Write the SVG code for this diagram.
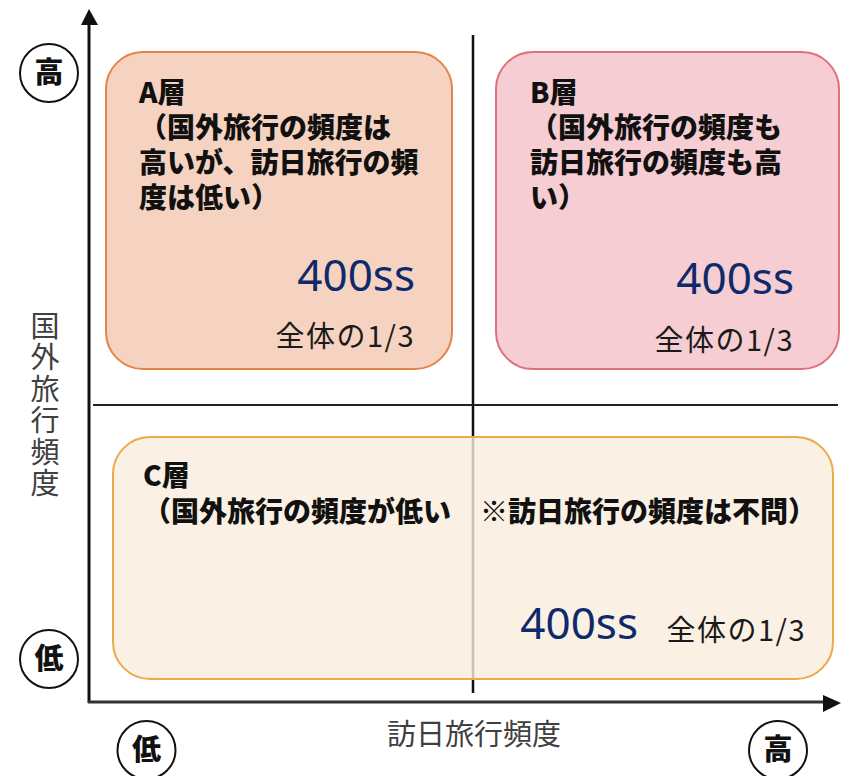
<svg xmlns="http://www.w3.org/2000/svg" width="841" height="776" viewBox="0 0 841 776">
<style>
.bold{font-family:"Noto Sans CJK JP","Noto Sans",sans-serif;font-weight:900;font-size:28px;fill:#111}
.num{font-family:"Noto Sans",sans-serif;font-size:44px;fill:#0E2A6B}
.frac{font-family:"Noto Sans CJK JP",sans-serif;font-size:29px;fill:#1a1a1a;letter-spacing:1.5px}
.axl{font-family:"Noto Sans CJK JP",sans-serif;font-size:29px;fill:#404040}
.circ{fill:#fff;stroke:#111;stroke-width:2}
.ct{font-family:"Noto Sans CJK JP",sans-serif;font-weight:900;font-size:29px;fill:#111;text-anchor:middle}
</style>
<rect width="841" height="776" fill="#fff"/>
<g id="connectors">
<line x1="473" y1="35" x2="473" y2="693" stroke="#111" stroke-width="2.5"/>
<line x1="93" y1="405" x2="838" y2="405" stroke="#222" stroke-width="2"/>
<line x1="89" y1="24" x2="89" y2="703" stroke="#111" stroke-width="3"/>
<polygon points="89,9 81,25 98,25" fill="#111"/>
<line x1="88" y1="702" x2="825" y2="702" stroke="#333" stroke-width="3"/>
<polygon points="841,703 823,695 823,712" fill="#111"/>
</g>
<g id="node-A">
<rect x="106" y="52" width="346" height="317" rx="37" fill="#F6D3C0" stroke="#E5834A" stroke-width="2"/>
<text class="bold"><tspan x="139" y="103">A層</tspan><tspan x="139" y="138">（国外旅行の頻度は</tspan><tspan x="139" y="173">高いが、訪日旅行の頻</tspan><tspan x="139" y="208">度は低い）</tspan></text>
<text class="num" x="415" y="291" text-anchor="end">400ss</text>
<text class="frac" x="415" y="347" text-anchor="end">全体の1/3</text>
</g>
<g id="node-B">
<rect x="496" y="52" width="343" height="317" rx="37" fill="#F5CDD3" stroke="#E0707A" stroke-width="2"/>
<text class="bold"><tspan x="530" y="103">B層</tspan><tspan x="530" y="138">（国外旅行の頻度も</tspan><tspan x="530" y="173">訪日旅行の頻度も高</tspan><tspan x="530" y="208">い）</tspan></text>
<text class="num" x="794" y="294" text-anchor="end">400ss</text>
<text class="frac" x="794" y="351" text-anchor="end">全体の1/3</text>
</g>
<g id="node-C">
<rect x="113" y="437" width="720" height="242" rx="37" fill="#F9ECDC" fill-opacity="0.8" stroke="#EBAA4C" stroke-width="2"/>
<text class="bold" x="143" y="486">C層</text>
<text class="bold" x="143" y="522">（国外旅行の頻度が低い</text>
<text class="bold" x="480" y="522">※訪日旅行の頻度は不問）</text>
<text class="num" x="638" y="639" text-anchor="end">400ss</text>
<text class="frac" x="806" y="641" text-anchor="end">全体の1/3</text>
</g>
<g id="axis-labels">
<text class="axl" x="45" y="311" writing-mode="vertical-rl" style="letter-spacing:2.5px">国外旅行頻度</text>
<text class="axl" x="387" y="745">訪日旅行頻度</text>
</g>
<g id="marker-high-y"><circle class="circ" cx="49" cy="73" r="29"/><text class="ct" x="49" y="83">高</text></g>
<g id="marker-low-y"><circle class="circ" cx="49" cy="659" r="29"/><text class="ct" x="49" y="669">低</text></g>
<g id="marker-low-x"><circle class="circ" cx="146.5" cy="750" r="29"/><text class="ct" x="146.5" y="760">低</text></g>
<g id="marker-high-x"><circle class="circ" cx="778" cy="750" r="29"/><text class="ct" x="778" y="760">高</text></g>
</svg>
